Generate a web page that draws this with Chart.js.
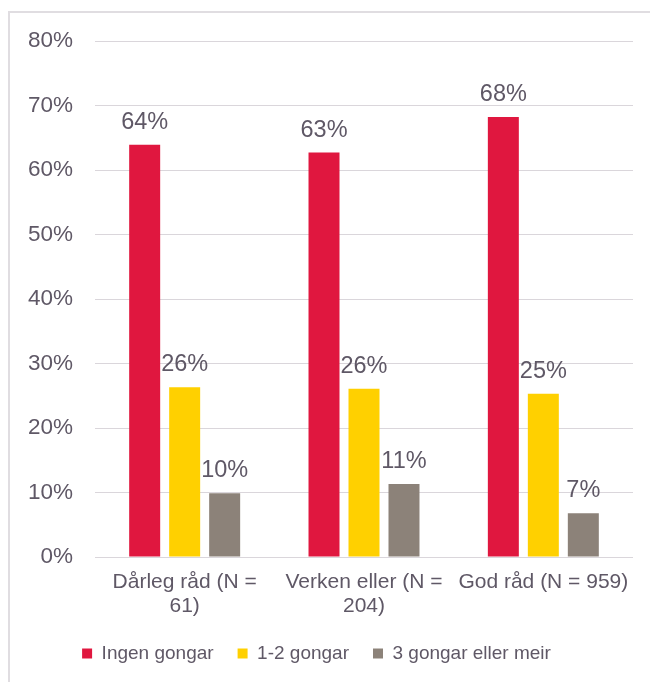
<!DOCTYPE html>
<html>
<head>
<meta charset="utf-8">
<script src="https://cdn.jsdelivr.net/npm/chart.js@4.4.1/dist/chart.umd.min.js"></script>
<style>
    html, body { margin: 0; padding: 0; background: #fff; }
    #wrap { position: relative; width: 650px; height: 682px; overflow: hidden; }
    #frame {
        position: absolute; left: 8px; top: 11px; right: -10px; bottom: -10px;
        border-left: 2px solid #e0dde1; border-top: 2px solid #e0dde1;
    }
    #chart { position: absolute; left: 0; top: 0; }
</style>
</head>
<body>
<div id="wrap">
    <div id="frame"></div>
    <canvas id="chart" width="650" height="682"></canvas>
</div>
<script>
// Categories and series (percent)
const categories = [
    ['Dårleg råd (N =', '61)'],
    ['Verken eller (N =', '204)'],
    ['God råd (N = 959)']
];
const seriesNames = ['Ingen gongar', '1-2 gongar', '3 gongar eller meir'];
const ingenGongar = [63.9, 62.7, 68.2];
const eittToGongar = [26.3, 26.1, 25.3];
const treGongarMeir = [9.9, 11.3, 6.8];
const yTicks = [0, 10, 20, 30, 40, 50, 60, 70, 80];

const colors = ['#e0173f', '#ffd000', '#8c8279'];
const textColor = '#5f5866';
const fontFamily = 'Arial, "Liberation Sans", sans-serif';

// Value labels above the bars
const valueLabels = {
    id: 'valueLabels',
    afterDatasetsDraw(chart) {
        const ctx = chart.ctx;
        ctx.save();
        ctx.font = '23.5px ' + fontFamily;
        ctx.fillStyle = textColor;
        ctx.textAlign = 'center';
        ctx.textBaseline = 'alphabetic';
        chart.data.datasets.forEach((ds, i) => {
            const meta = chart.getDatasetMeta(i);
            meta.data.forEach((bar, j) => {
                ctx.fillText(Math.round(ds.data[j]) + '%', bar.x, bar.y - 16);
            });
        });
        ctx.restore();
    }
};

const ctx = document.getElementById('chart').getContext('2d');
new Chart(ctx, {
    type: 'bar',
    data: {
        labels: categories,
        datasets: [{
            label: seriesNames[0],
            data: ingenGongar,
            backgroundColor: colors[0]
        }, {
            label: seriesNames[1],
            data: eittToGongar,
            backgroundColor: colors[1]
        }, {
            label: seriesNames[2],
            data: treGongarMeir,
            backgroundColor: colors[2]
        }]
    },
    options: {
        responsive: false,
        animation: false,
        categoryPercentage: 0.669,
        barPercentage: 0.775,
        layout: {
            padding: { left: 0, right: 17, top: 41, bottom: 9 }
        },
        scales: {
            x: {
                grid: { display: false },
                border: { display: false },
                ticks: {
                    color: textColor,
                    font: { family: fontFamily, size: 21, lineHeight: 1.15 },
                    padding: 5,
                    maxRotation: 0,
                    autoSkip: false
                },
                afterFit(scale) { scale.height = 63; }
            },
            y: {
                min: 0,
                max: 80,
                afterBuildTicks(scale) {
                    scale.ticks = yTicks.map(v => ({ value: v }));
                },
                grid: {
                    color: '#dad6db',
                    lineWidth: 1,
                    drawTicks: false
                },
                border: { display: false },
                ticks: {
                    color: textColor,
                    font: { family: fontFamily, size: 22.5 },
                    padding: 22,
                    callback: v => v + '%'
                },
                afterFit(scale) { scale.width = 95; }
            }
        },
        plugins: {
            legend: {
                position: 'bottom',
                labels: {
                    color: textColor,
                    font: { family: fontFamily, size: 19 },
                    boxWidth: 10,
                    boxHeight: 10,
                    padding: 24
                }
            },
            tooltip: { enabled: false }
        }
    },
    plugins: [valueLabels]
});
</script>
</body>
</html>
